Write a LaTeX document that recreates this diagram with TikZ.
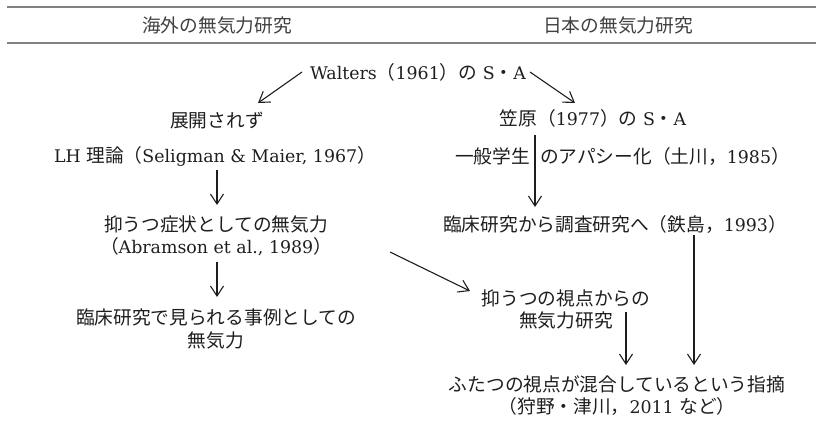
\documentclass[tikz,border=0pt]{standalone}
\usepackage{fontspec}
\setmainfont{DejaVu Serif}[Scale=0.93]
\newfontfamily\cjk{Noto Sans CJK JP}
\usetikzlibrary{arrows.meta}
\newcommand\jp[1]{{\cjk #1}}
\definecolor{rulegray}{HTML}{808080}
\definecolor{ink}{HTML}{1E1E1E}
\tikzset{
  lbl/.style={inner sep=0pt, align=center, text=ink, font=\fontsize{18.7}{22.5}\selectfont},
  hdr/.style={inner sep=0pt, text=ink!85, font=\fontsize{18.7}{22.5}\selectfont},
  hrule/.style={draw=rulegray, line width=1.5pt},
  arr/.style={draw=ink, line width=1.1pt, -{Straight Barb[length=10pt,width=13pt]}}
}
\begin{document}
\begin{tikzpicture}[x=1pt,y=-1pt]
\useasboundingbox (0,0) rectangle (816,429);
% header rules
\coordinate (r1a) at (7,7);
\coordinate (r1b) at (816,7);
\coordinate (r2a) at (7,43);
\coordinate (r2b) at (816,43);
\draw[hrule] (r1a) -- (r1b);
\draw[hrule] (r2a) -- (r2b);
\node[hdr] (hL) at (217,25) {\jp{海外の無気力研究}};
\node[hdr] (hR) at (618,25) {\jp{日本の無気力研究}};
% nodes
\node[lbl] (walters) at (418,72) {Walters\jp{（}1961\jp{）の} S\jp{・}A};
\node[lbl] (tenkai) at (217,121) {\jp{展開されず}};
\node[lbl] (kasa) at (593,118) {\jp{笠原（}1977\jp{）の} S\jp{・}A};
\node[lbl] (lh) at (215,156) {LH \jp{理論（}Seligman \& Maier, 1967\jp{）}};
\node[lbl, anchor=east] (ippanA) at (530,156) {\jp{一般学生}};
\node[lbl, anchor=west] (ippanB) at (540,156) {\jp{のアパシー化（土川，}1985\jp{）}};
\node[lbl] (rinsho) at (615,224) {\jp{臨床研究から調査研究へ（鉄島，}1993\jp{）}};
\node[lbl] (yoku) at (216,236) {\jp{抑うつ症状としての無気力}\\\jp{（}Abramson et al., 1989\jp{）}};
\node[lbl] (rinsho2) at (216,329) {\jp{臨床研究で見られる事例としての}\\\jp{無気力}};
\node[lbl] (shiten) at (566,309.5) {\jp{抑うつの視点からの}\\\jp{無気力研究}};
\node[lbl] (futa) at (617,395.5) {\jp{ふたつの視点が混合しているという指摘}\\\jp{（狩野・津川，}2011 \jp{など）}};
% connectors
\draw[arr] ([shift={(-116,0)}]walters.center) -- ([shift={(41,-18)}]tenkai.center);
\draw[arr] ([shift={(112,0)}]walters.center) -- ([shift={(-18,-15)}]kasa.center);
\draw[arr] ([shift={(2,14)}]lh.center) -- ([shift={(1,-31)}]yoku.center);
\draw[arr] ([shift={(1,26)}]yoku.center) -- ([shift={(1,-32)}]rinsho2.center);
\draw[arr] ([shift={(-58,17)}]kasa.center) -- ([shift={(-80,-17)}]rinsho.center);
\draw[arr] ([shift={(79,11)}]rinsho.center) -- ([shift={(77,-30.5)}]futa.center);
\draw[arr] ([shift={(174,16)}]yoku.center) -- ([shift={(-96,-18.5)}]shiten.center);
\draw[arr] ([shift={(60,2.5)}]shiten.center) -- ([shift={(9,-30.5)}]futa.center);
\end{tikzpicture}
\end{document}
